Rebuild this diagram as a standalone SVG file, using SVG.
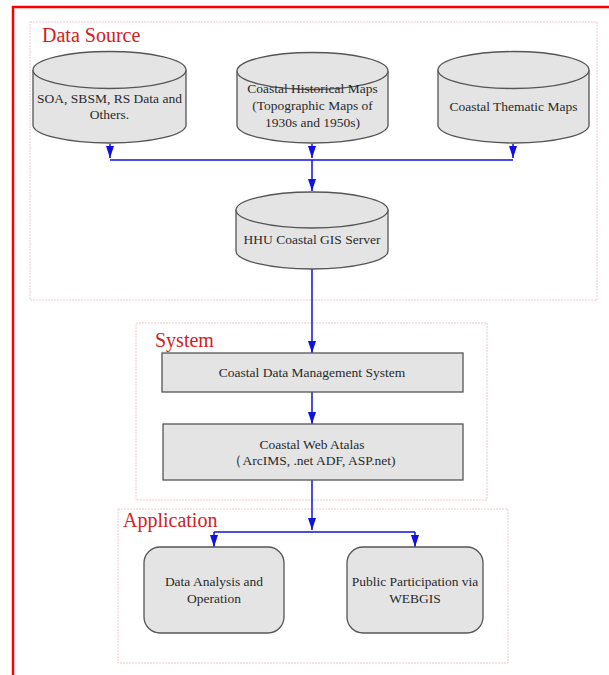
<svg xmlns="http://www.w3.org/2000/svg" width="609" height="675" viewBox="0 0 609 675">
<defs>
<marker id="ahd" markerWidth="12" markerHeight="8" refX="12" refY="4" orient="auto" markerUnits="userSpaceOnUse" viewBox="0 0 12 8">
<path d="M0,0 L12,4 L0,8 Z" fill="#1010e0"/>
</marker>
</defs>
<style>
.frame{fill:none;stroke:#ff0000;stroke-width:2.5}
.group{fill:none;stroke:#f0c8c8;stroke-width:1;stroke-dasharray:2 1}
.gt{font-family:"Liberation Serif",serif;font-size:20px;fill:#d42020}
.node{fill:#e4e4e4;stroke:#555;stroke-width:1.3}
.nt{font-family:"Liberation Serif",serif;font-size:13.5px;fill:#2a2a2a;text-anchor:middle}
.conn{fill:none;stroke:#1010e0;stroke-width:1.5}
</style>
<rect x="0" y="0" width="609" height="675" fill="#fff"/>
<rect class="frame" x="13" y="7" width="610" height="690"/>

<g id="grp-data-source">
<rect class="group" x="30" y="22" width="567" height="278"/>
<text class="gt" x="42" y="42">Data Source</text>
</g>
<g id="grp-system">
<rect class="group" x="136" y="323" width="351" height="177"/>
<text class="gt" x="155" y="347">System</text>
</g>
<g id="grp-application">
<rect class="group" x="118" y="509" width="390" height="154"/>
<text class="gt" x="123" y="527">Application</text>
</g>

<g id="connectors">
<path class="conn" d="M110,144 V158" marker-end="url(#ahd)"/>
<path class="conn" d="M312,144 V158" marker-end="url(#ahd)"/>
<path class="conn" d="M513,144 V158" marker-end="url(#ahd)"/>
<path class="conn" d="M110,160 H513"/>
<path class="conn" d="M312,160 V191" marker-end="url(#ahd)"/>
<path class="conn" d="M312,269 V353" marker-end="url(#ahd)"/>
<path class="conn" d="M312,392 V424" marker-end="url(#ahd)"/>
<path class="conn" d="M312,480 V530" marker-end="url(#ahd)"/>
<path class="conn" d="M214,532 H415"/>
<path class="conn" d="M214,532 V547" marker-end="url(#ahd)"/>
<path class="conn" d="M415,532 V547" marker-end="url(#ahd)"/>
</g>

<g id="n-soa">
<path class="node" d="M33,70 V125 A76.5,18 0 0 0 186,125 V70"/>
<ellipse class="node" cx="109.5" cy="70" rx="76.5" ry="18.5"/>
<text class="nt" x="109.5" y="103">SOA, SBSM, RS Data and</text>
<text class="nt" x="109.5" y="119">Others.</text>
</g>
<g id="n-historical">
<path class="node" d="M237,71 V125 A75.5,18 0 0 0 388,125 V71"/>
<ellipse class="node" cx="312.5" cy="71" rx="75.5" ry="18.5"/>
<text class="nt" x="312.5" y="93">Coastal Historical Maps</text>
<text class="nt" x="312.5" y="110">(Topographic Maps of</text>
<text class="nt" x="312.5" y="127">1930s and 1950s)</text>
</g>
<g id="n-thematic">
<path class="node" d="M438,70 V125 A75.5,18 0 0 0 589,125 V70"/>
<ellipse class="node" cx="513.5" cy="70" rx="75.5" ry="18.5"/>
<text class="nt" x="513.5" y="111">Coastal Thematic Maps</text>
</g>
<g id="n-hhu">
<path class="node" d="M236,210 V251 A76,18 0 0 0 388,251 V210"/>
<ellipse class="node" cx="312" cy="210" rx="76" ry="18"/>
<text class="nt" x="312" y="244">HHU Coastal GIS Server</text>
</g>
<g id="n-cdms">
<rect class="node" x="162" y="353" width="301" height="39"/>
<text class="nt" x="312" y="377">Coastal Data Management System</text>
</g>
<g id="n-cwa">
<rect class="node" x="163" y="424" width="300" height="56"/>
<text class="nt" x="312" y="449">Coastal Web Atalas</text>
<text class="nt" x="312" y="465">（ArcIMS, .net ADF, ASP.net)</text>
</g>
<g id="n-analysis">
<rect class="node" x="144" y="547" width="140" height="86" rx="16"/>
<text class="nt" x="214" y="586">Data Analysis and</text>
<text class="nt" x="214" y="603">Operation</text>
</g>
<g id="n-public">
<rect class="node" x="347" y="547" width="136" height="86" rx="16"/>
<text class="nt" x="415" y="586">Public Participation via</text>
<text class="nt" x="415" y="603">WEBGIS</text>
</g>
</svg>
